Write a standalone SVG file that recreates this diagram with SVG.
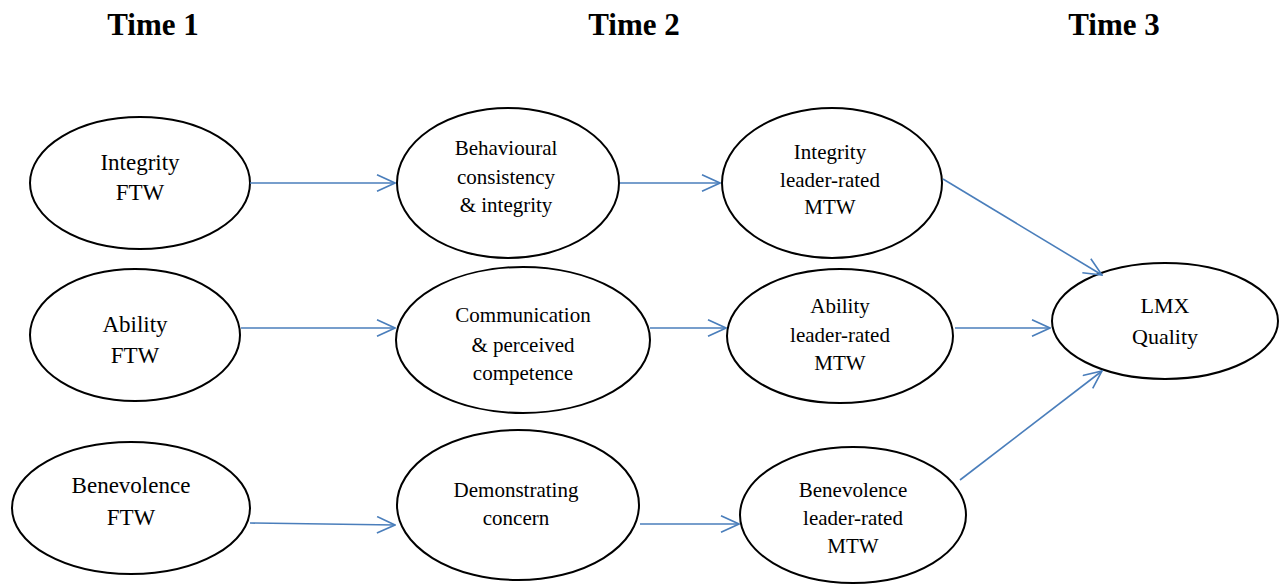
<svg xmlns="http://www.w3.org/2000/svg" width="1282" height="585" viewBox="0 0 1282 585">
<defs>
<marker id="ah" viewBox="0 0 20 18" refX="19" refY="9" markerWidth="20" markerHeight="18" markerUnits="userSpaceOnUse" orient="auto">
<path d="M1,0.8 L19,9 L1,17.2" fill="none" stroke="#4a7ebb" stroke-width="1.6"/>
</marker>
</defs>
<style>
ellipse.e{fill:#fff;stroke:#000;stroke-width:2}
text.t{text-anchor:middle;fill:#000}
text.h{font-weight:bold;text-anchor:middle;fill:#000}
#edges line{stroke:#4a7ebb;stroke-width:1.6;fill:none}
</style>
<rect width="1282" height="585" fill="#fff"/>
<g font-family="'Liberation Serif', 'Times New Roman', serif" font-size="31">
<text class="h" x="153" y="35">Time 1</text>
<text class="h" x="634" y="35">Time 2</text>
<text class="h" x="1114" y="35">Time 3</text>
</g>
<g font-family="'Liberation Serif', 'Times New Roman', serif" font-size="23">
<g id="integrity-ftw"><ellipse class="e" cx="140" cy="183" rx="110" ry="66"/><text class="t" x="140" y="170">Integrity</text><text class="t" x="140" y="200">FTW</text></g>
<g id="ability-ftw"><ellipse class="e" cx="135" cy="335" rx="105" ry="66"/><text class="t" x="135" y="332">Ability</text><text class="t" x="135" y="363">FTW</text></g>
<g id="benevolence-ftw"><ellipse class="e" cx="131" cy="508" rx="119" ry="66"/><text class="t" x="131" y="493">Benevolence</text><text class="t" x="131" y="525">FTW</text></g>
<g id="lmx" font-size="22"><ellipse class="e" cx="1165" cy="321" rx="113" ry="58"/><text class="t" x="1165" y="313">LMX</text><text class="t" x="1165" y="344">Quality</text></g>
</g>
<g font-family="'Liberation Serif', 'Times New Roman', serif" font-size="21">
<g id="behavioural"><ellipse class="e" cx="508" cy="183" rx="111" ry="75"/><text class="t" x="506" y="155">Behavioural</text><text class="t" x="506" y="184">consistency</text><text class="t" x="506" y="212">&amp; integrity</text></g>
<g id="integrity-leader"><ellipse class="e" cx="832" cy="183" rx="110" ry="75"/><text class="t" x="830" y="159">Integrity</text><text class="t" x="830" y="187">leader-rated</text><text class="t" x="830" y="214">MTW</text></g>
<g id="communication"><ellipse class="e" cx="523" cy="340" rx="127" ry="73"/><text class="t" x="523" y="322">Communication</text><text class="t" x="523" y="352">&amp; perceived</text><text class="t" x="523" y="380">competence</text></g>
<g id="ability-leader"><ellipse class="e" cx="840" cy="336" rx="113" ry="67"/><text class="t" x="840" y="313">Ability</text><text class="t" x="840" y="342">leader-rated</text><text class="t" x="840" y="370">MTW</text></g>
<g id="demonstrating"><ellipse class="e" cx="518" cy="505" rx="121" ry="75"/><text class="t" x="516" y="497">Demonstrating</text><text class="t" x="516" y="525">concern</text></g>
<g id="benevolence-leader"><ellipse class="e" cx="853" cy="515" rx="113" ry="68"/><text class="t" x="853" y="497">Benevolence</text><text class="t" x="853" y="525">leader-rated</text><text class="t" x="853" y="553">MTW</text></g>
</g>
<g id="edges">
<line x1="250" y1="183" x2="395" y2="183" marker-end="url(#ah)"/>
<line x1="620" y1="183" x2="720" y2="183" marker-end="url(#ah)"/>
<line x1="943" y1="179" x2="1102" y2="275" marker-end="url(#ah)"/>
<line x1="241" y1="328" x2="395" y2="328" marker-end="url(#ah)"/>
<line x1="650" y1="328" x2="726" y2="328" marker-end="url(#ah)"/>
<line x1="955" y1="328" x2="1050" y2="328" marker-end="url(#ah)"/>
<line x1="250" y1="523" x2="395" y2="525" marker-end="url(#ah)"/>
<line x1="640" y1="524" x2="739" y2="524" marker-end="url(#ah)"/>
<line x1="960" y1="480" x2="1102" y2="371" marker-end="url(#ah)"/>
</g>
</svg>
